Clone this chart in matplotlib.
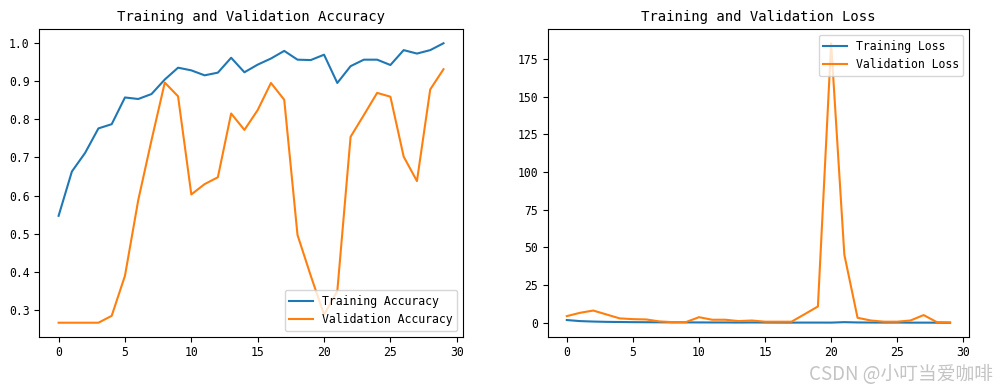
import matplotlib
matplotlib.use("Agg")
import matplotlib.pyplot as plt

# values
epochs = list(range(30))
acc = [0.547, 0.663, 0.712, 0.776, 0.787, 0.857, 0.853, 0.866, 0.904, 0.935,
       0.928, 0.915, 0.922, 0.961, 0.923, 0.943, 0.959, 0.979, 0.956, 0.955,
       0.969, 0.895, 0.939, 0.956, 0.956, 0.942, 0.981, 0.972, 0.981, 0.999]
val_acc = [0.267, 0.267, 0.267, 0.267, 0.285, 0.390, 0.588, 0.745, 0.896, 0.860,
           0.603, 0.630, 0.648, 0.815, 0.772, 0.824, 0.895, 0.851, 0.497, 0.390,
           0.288, 0.350, 0.754, 0.811, 0.869, 0.859, 0.702, 0.638, 0.878, 0.931]
loss = [1.8, 1.1, 0.8, 0.6, 0.5, 0.4, 0.35, 0.3, 0.25, 0.25,
        0.22, 0.2, 0.2, 0.15, 0.2, 0.15, 0.12, 0.1, 0.12, 0.12,
        0.1, 0.4, 0.2, 0.15, 0.12, 0.15, 0.08, 0.08, 0.06, 0.03]
val_loss = [4.4, 6.6, 8.1, 5.5, 2.9, 2.4, 2.2, 0.9, 0.4, 0.4,
            3.7, 2.0, 2.0, 1.1, 1.5, 0.7, 0.7, 0.7, 5.7, 10.8,
            185.3, 45.1, 3.3, 1.5, 0.7, 0.7, 1.5, 5.1, 0.4, 0.2]

mono = "DejaVu Sans Mono"
plt.rcParams["font.family"] = mono

fig = plt.figure(figsize=(9.99, 3.92), dpi=100)

# accuracy
ax1 = fig.add_axes([0.0394, 0.1411, 0.4238, 0.7842])
ax1.plot(epochs, acc, label="Training Accuracy")
ax1.plot(epochs, val_acc, label="Validation Accuracy")
ax1.legend(loc="lower right", fontsize=8.3)
ax1.set_title("Training and Validation Accuracy", fontsize=10)
ax1.tick_params(labelsize=8.3)

# loss
ax2 = fig.add_axes([0.5482, 0.1411, 0.4220, 0.7842])
ax2.plot(epochs, loss, label="Training Loss")
ax2.plot(epochs, val_loss, label="Validation Loss")
ax2.legend(loc="upper right", fontsize=8.3)
ax2.set_title("Training and Validation Loss", fontsize=10)
ax2.tick_params(labelsize=8.3)

# watermark
fig.text(993 / 999, 1 - 375 / 392, "CSDN @小叮当爱咖啡", ha="right", va="center",
         fontsize=13.5, color="#c4c4c4",
         family=["Noto Sans CJK SC", "DejaVu Sans"])

fig.savefig("out.png", dpi=100)
